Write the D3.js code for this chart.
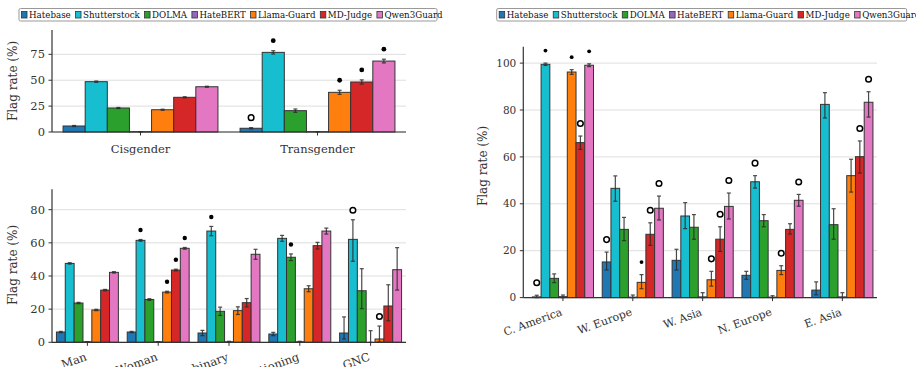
<!DOCTYPE html>
<html>
<head>
<meta charset="UTF-8">
<script src="https://cdn.jsdelivr.net/npm/d3@7"></script>
<style>
  html, body { margin: 0; padding: 0; background: #fff; }
  svg { display: block; font-family: "DejaVu Serif", serif; }
  svg text { font-family: "DejaVu Serif", serif; }
</style>
</head>
<body>
<svg id="chart" width="916" height="367"></svg>
<script>
    // models (series) and their colours
    const models = ["Hatebase", "Shutterstock", "DOLMA", "HateBERT", "Llama-Guard", "MD-Judge", "Qwen3Guard"];
    const colors = ["#1f77b4", "#17becf", "#2ca02c", "#9467bd", "#ff7f0e", "#d62728", "#e377c2"];

    // top-left: gender identity
    const genderCats = ["Cisgender", "Transgender"];
    const genderVals = [[5.8, 48.6, 23.2, 0.3, 21.5, 33.5, 43.7], [3.6, 76.9, 20.6, 0.3, 38.3, 48.3, 68.5]];
    const genderLo = [[5.3, 48.0, 22.7, 0.2, 21.0, 33.0, 43.2], [3.0, 75.3, 19.0, 0.2, 36.3, 46.3, 66.7]];
    const genderHi = [[6.3, 49.2, 23.7, 0.4, 22.0, 34.0, 44.2], [4.2, 78.5, 22.2, 0.4, 40.3, 50.3, 70.3]];
    const genderSig = [["", "", "", "", "", "", ""], ["o", "f", "", "", "f", "f", "f"]];
    const genderTicks = [0, 25, 50, 75];

    // bottom-left: gender
    const idCats = ["Man", "Woman", "Non-binary", "Questioning", "GNC"];
    const idVals = [
        [6.2, 47.6, 23.7, 0.3, 19.5, 31.5, 42.2],
        [6.2, 61.5, 25.8, 0.3, 30.3, 43.6, 56.7],
        [5.6, 67.1, 18.7, 0.3, 19.1, 23.9, 53.1],
        [5.0, 62.7, 51.3, 0.3, 32.3, 58.3, 67.1],
        [5.6, 62.1, 31.1, 0.0, 2.0, 21.9, 43.8]
    ];
    const idLo = [
        [5.8, 47.2, 23.3, 0.2, 19.1, 31.1, 41.8],
        [5.8, 61.0, 25.3, 0.2, 29.8, 43.1, 56.2],
        [4.0, 64.3, 16.2, 0.0, 16.8, 21.4, 50.1],
        [4.0, 60.9, 49.3, 0.0, 30.5, 56.3, 65.3],
        [2.0, 48.9, 20.3, 0.0, 0.3, 13.0, 31.5]
    ];
    const idHi = [
        [6.6, 48.0, 24.1, 0.4, 19.9, 31.9, 42.6],
        [6.6, 62.0, 26.3, 0.4, 30.8, 44.1, 57.2],
        [7.2, 69.9, 21.2, 0.6, 21.4, 26.4, 56.1],
        [6.0, 64.5, 53.3, 0.6, 34.1, 60.3, 68.9],
        [15.3, 73.9, 44.4, 7.0, 9.8, 34.7, 57.1]
    ];
    const idSig = [
        ["", "", "", "", "", "", ""],
        ["", "f", "", "", "f", "f", "f"],
        ["", "f", "", "", "", "", ""],
        ["", "", "f", "", "", "", ""],
        ["", "o", "", "", "o", "", ""]
    ];
    const idTicks = [0, 20, 40, 60, 80];

    // right: region
    const regionCats = ["C. America", "W. Europe", "W. Asia", "N. Europe", "E. Asia"];
    const regionVals = [
        [0.3, 99.5, 8.2, 0.4, 96.2, 66.1, 99.1],
        [15.2, 46.6, 29.1, 0.2, 6.5, 27.0, 38.1],
        [15.9, 34.8, 30.0, 0.3, 7.6, 24.9, 38.9],
        [9.5, 49.4, 32.8, 0.2, 11.6, 29.1, 41.5],
        [3.2, 82.4, 31.1, 0.3, 52.0, 60.1, 83.3]
    ];
    const regionLo = [
        [0.0, 99.0, 6.4, 0.0, 95.2, 63.2, 98.5],
        [11.8, 41.1, 24.3, 0.0, 3.8, 22.3, 33.1],
        [11.8, 29.4, 24.9, 0.0, 4.9, 19.7, 33.5],
        [7.8, 46.7, 30.2, 0.0, 9.8, 27.1, 39.0],
        [1.2, 76.6, 24.9, 0.0, 45.0, 53.1, 77.0]
    ];
    const regionHi = [
        [1.0, 100.0, 10.1, 1.1, 97.2, 68.9, 99.7],
        [19.4, 51.9, 34.2, 1.1, 9.8, 31.9, 43.3],
        [20.6, 40.5, 35.4, 2.1, 11.2, 30.2, 44.6],
        [11.2, 52.0, 35.4, 0.8, 13.6, 31.5, 44.0],
        [6.7, 87.4, 37.9, 2.1, 59.0, 66.8, 87.8]
    ];
    const regionSig = [
        ["o", "f", "", "", "f", "o", "f"],
        ["o", "", "", "", "f", "o", "o"],
        ["", "", "", "", "o", "o", "o"],
        ["", "o", "", "", "o", "", "o"],
        ["", "", "", "", "", "o", "o"]
    ];
    const regionTicks = [0, 20, 40, 60, 80, 100];

    const svg = d3.select("#chart");
    const ink = "#333";

    function drawPanel(p) {
        const g = svg.append("g");
        const x = d3.scalePoint().domain(p.cats).range([p.xr0, p.xr1]).padding(0.5);
        const step = x.step();
        const bw = step * 0.125;
        const y = d3.scaleLinear().domain([0, p.ymax]).range([p.y0, p.yTop]);

        // grid
        g.selectAll(".grid").data(p.ticks).enter().append("line")
            .attr("x1", p.spine).attr("x2", p.xEnd)
            .attr("y1", d => y(d)).attr("y2", d => y(d))
            .attr("stroke", "#dedede").attr("stroke-width", 1);

        p.cats.forEach((c, ci) => {
            const gx = x(c) - bw * 3.5;
            p.vals[ci].forEach((v, mi) => {
                const bx = gx + mi * bw;
                g.append("rect")
                    .attr("x", bx).attr("width", bw)
                    .attr("y", y(v)).attr("height", Math.max(0, y(0) - y(v)))
                    .attr("fill", colors[mi])
                    .attr("stroke", ink).attr("stroke-width", 1);
            });
        });

        // error bars + markers
        p.cats.forEach((c, ci) => {
            const gx = x(c) - bw * 3.5;
            p.vals[ci].forEach((v, mi) => {
                const cx = gx + (mi + 0.5) * bw;
                const lo = p.lo[ci][mi], hi = p.hi[ci][mi];
                const eb = g.append("g").attr("stroke", "#2a2a2a").attr("stroke-width", 1.2).attr("opacity", 0.85);
                eb.append("line").attr("x1", cx).attr("x2", cx).attr("y1", y(lo)).attr("y2", y(hi));
                eb.append("line").attr("x1", cx - 2).attr("x2", cx + 2).attr("y1", y(lo)).attr("y2", y(lo));
                eb.append("line").attr("x1", cx - 2).attr("x2", cx + 2).attr("y1", y(hi)).attr("y2", y(hi));

                const s = p.sig[ci][mi];
                if (s === "f") {
                    g.append("circle").attr("cx", cx).attr("cy", y(hi) - p.markOff)
                        .attr("r", p.dotR).attr("fill", "#000");
                } else if (s === "o") {
                    g.append("circle").attr("cx", cx).attr("cy", y(hi) - p.markOff)
                        .attr("r", 2.8).attr("fill", "#fff").attr("stroke", "#000").attr("stroke-width", 1.5);
                }
            });
        });

        // spines
        g.append("line").attr("x1", p.spine).attr("x2", p.spine).attr("y1", p.yTop).attr("y2", p.y0)
            .attr("stroke", ink).attr("stroke-width", 1.2);
        g.append("line").attr("x1", p.spine).attr("x2", p.xEnd).attr("y1", p.y0).attr("y2", p.y0)
            .attr("stroke", ink).attr("stroke-width", 1.2);

        // y ticks
        p.ticks.forEach(t => {
            g.append("line").attr("x1", p.spine - 3.5).attr("x2", p.spine).attr("y1", y(t)).attr("y2", y(t))
                .attr("stroke", ink).attr("stroke-width", 1);
            g.append("text").attr("x", p.spine - 7).attr("y", y(t)).attr("dy", "0.35em")
                .attr("text-anchor", "end").attr("font-size", p.tickFont).attr("fill", ink).text(t);
        });

        // x ticks (rotated labels may run past the bottom edge, as in the original)
        p.cats.forEach(c => {
            g.append("line").attr("x1", x(c)).attr("x2", x(c)).attr("y1", p.y0).attr("y2", p.y0 + 3.5)
                .attr("stroke", ink).attr("stroke-width", 1);
            if (p.rotate) {
                g.append("text")
                    .attr("transform", `translate(${x(c) - 3},${p.y0 + 9}) rotate(-${p.rotate})`)
                    .attr("text-anchor", "end").attr("dy", "0.8em")
                    .attr("font-size", p.xFont).attr("fill", ink).text(c);
            } else {
                g.append("text").attr("x", x(c)).attr("y", p.y0 + 11.5).attr("dy", "0.8em")
                    .attr("text-anchor", "middle").attr("font-size", p.xFont).attr("fill", ink).text(c);
            }
        });

        // y label
        g.append("text")
            .attr("transform", `translate(${p.labelX},${p.labelY}) rotate(-90)`)
            .attr("text-anchor", "middle").attr("dy", "0.35em")
            .attr("font-size", 12).attr("fill", ink).text("Flag rate (%)");
    }

    function drawLegend(x0, y0, x1) {
        const g = svg.append("g");
        const box = g.append("rect").attr("x", x0).attr("y", y0).attr("height", 12.5).attr("rx", 1.5)
            .attr("fill", "#fff").attr("stroke", "#999").attr("stroke-width", 1);
        let cx = x0 + 2.5;
        models.forEach((m, i) => {
            g.append("rect").attr("x", cx).attr("y", y0 + 3).attr("width", 5.5).attr("height", 6.5)
                .attr("fill", colors[i]).attr("stroke", ink).attr("stroke-width", 0.8);
            const t = g.append("text").attr("x", cx + 7.5).attr("y", y0 + 6.4).attr("dy", "0.35em")
                .attr("font-size", 8.7).attr("fill", "#111").text(m);
            cx += 7.5 + t.node().getComputedTextLength() + 4.8;
        });
        box.attr("width", x1 - x0);
    }

    drawPanel({
        cats: genderCats, vals: genderVals, lo: genderLo, hi: genderHi, sig: genderSig, ticks: genderTicks,
        spine: 52, xEnd: 406, xr0: 52, xr1: 406, y0: 132, yTop: 30, ymax: 98.5,
        markOff: 10, dotR: 2.4, tickFont: 11.5, xFont: 11.5, rotate: 0, labelX: 13, labelY: 81
    });
    drawPanel({
        cats: idCats, vals: idVals, lo: idLo, hi: idHi, sig: idSig, ticks: idTicks,
        spine: 52, xEnd: 406, xr0: 52, xr1: 406, y0: 342.3, yTop: 189.3, ymax: 92.3,
        markOff: 9.5, dotR: 2.2, tickFont: 11.5, xFont: 11.5, rotate: 20, labelX: 13, labelY: 265
    });
    drawPanel({
        cats: regionCats, vals: regionVals, lo: regionLo, hi: regionHi, sig: regionSig, ticks: regionTicks,
        spine: 523.3, xEnd: 877, xr0: 528, xr1: 877.3, y0: 297.6, yTop: 46.7, ymax: 107,
        markOff: 12.5, dotR: 1.9, tickFont: 10.5, xFont: 11, rotate: 20, labelX: 483, labelY: 166
    });

    drawLegend(19, 8.5, 437);
    drawLegend(496.7, 8.5, 906.7);
</script>
</body>
</html>
